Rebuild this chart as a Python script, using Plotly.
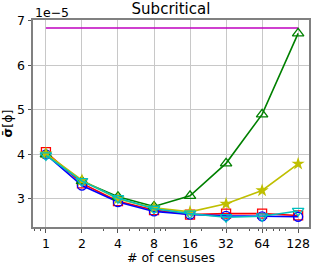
import plotly.graph_objects as go

censuses = [1, 2, 4, 8, 16, 32, 64, 128]
tick_labels = ["1", "2", "4", "8", "16", "32", "64", "128"]
reference = [6.84e-5] * 8
red_sq = [4.05e-5, 3.35e-5, 2.95e-5, 2.75e-5, 2.65e-5, 2.67e-5, 2.67e-5, 2.63e-5]
blue_circ = [4.00e-5, 3.30e-5, 2.93e-5, 2.72e-5, 2.65e-5, 2.62e-5, 2.61e-5, 2.60e-5]
green_tri = [4.00e-5, 3.40e-5, 3.05e-5, 2.83e-5, 3.07e-5, 3.80e-5, 4.90e-5, 6.72e-5]
yellow_star = [4.02e-5, 3.42e-5, 3.00e-5, 2.80e-5, 2.71e-5, 2.89e-5, 3.19e-5, 3.79e-5]
cyan_tri = [3.98e-5, 3.40e-5, 3.02e-5, 2.78e-5, 2.67e-5, 2.59e-5, 2.61e-5, 2.73e-5]

fig = go.Figure()
fig.add_trace(go.Scatter(x=censuses, y=reference, mode="lines",
                         line=dict(color="#bf00bf", width=1.6)))
fig.add_trace(go.Scatter(x=censuses, y=red_sq, mode="lines+markers",
                         line=dict(color="#ff0000", width=1.6),
                         marker=dict(symbol="square-open", size=9, color="#ff0000", line=dict(width=1.3))))
fig.add_trace(go.Scatter(x=censuses, y=blue_circ, mode="lines+markers",
                         line=dict(color="#0000ff", width=1.6),
                         marker=dict(symbol="circle-open", size=9, color="#0000ff", line=dict(width=1.3))))
fig.add_trace(go.Scatter(x=censuses, y=green_tri, mode="lines+markers",
                         line=dict(color="#008000", width=1.6),
                         marker=dict(symbol="triangle-up-open", size=10, color="#008000", line=dict(width=1.3))))
fig.add_trace(go.Scatter(x=censuses, y=yellow_star, mode="lines+markers",
                         line=dict(color="#bfbf00", width=1.6),
                         marker=dict(symbol="star", size=10, color="#bfbf00")))
fig.add_trace(go.Scatter(x=censuses, y=cyan_tri, mode="lines+markers",
                         line=dict(color="#00bfbf", width=1.6),
                         marker=dict(symbol="triangle-down-open", size=10, color="#00bfbf", line=dict(width=1.3))))

fig.update_layout(
    width=313, height=265,
    margin=dict(l=33, r=2, t=20, b=38),
    paper_bgcolor="white", plot_bgcolor="white",
    showlegend=False,
    font=dict(family="DejaVu Sans", size=12.5, color="black"),
    title=dict(text="Subcritical", xref="paper", x=0.5, xanchor="center",
               yref="container", y=0.985, yanchor="top", font=dict(size=15)),
)
fig.update_xaxes(
    type="log", range=[-0.108, 2.198],
    tickvals=censuses, ticktext=tick_labels,
    ticks="outside", ticklen=3.5, tickcolor="#555",
    showgrid=True, gridcolor="#c8c8c8", gridwidth=1,
    showline=True, linecolor="#808080", linewidth=2, mirror=True,
    minor=dict(ticks="outside", ticklen=2, tickcolor="#555", dtick="D1", showgrid=False),
    title=dict(text="# of censuses", standoff=3, font=dict(size=12.5)),
    zeroline=False,
)
fig.update_yaxes(
    range=[2.37e-5, 7.02e-5],
    tickvals=[3e-5, 4e-5, 5e-5, 6e-5, 7e-5], ticktext=["3", "4", "5", "6", "7"],
    ticks="outside", ticklen=3.5, tickcolor="#555",
    showgrid=True, gridcolor="#c8c8c8", gridwidth=1,
    showline=True, linecolor="#808080", linewidth=2, mirror=True,
    title=dict(text="<b>σ̄</b>[ϕ]", standoff=4, font=dict(size=12.5)),
    zeroline=False,
)
fig.add_annotation(text="1e−5", xref="paper", yref="paper", x=0.0, y=1.0,
                   xanchor="left", yanchor="bottom", showarrow=False,
                   font=dict(size=12.5), yshift=-2)
fig.write_html("out.html", config={"displayModeBar": False},
               post_script="document.body.style.margin='0';document.body.style.overflow='hidden';")
